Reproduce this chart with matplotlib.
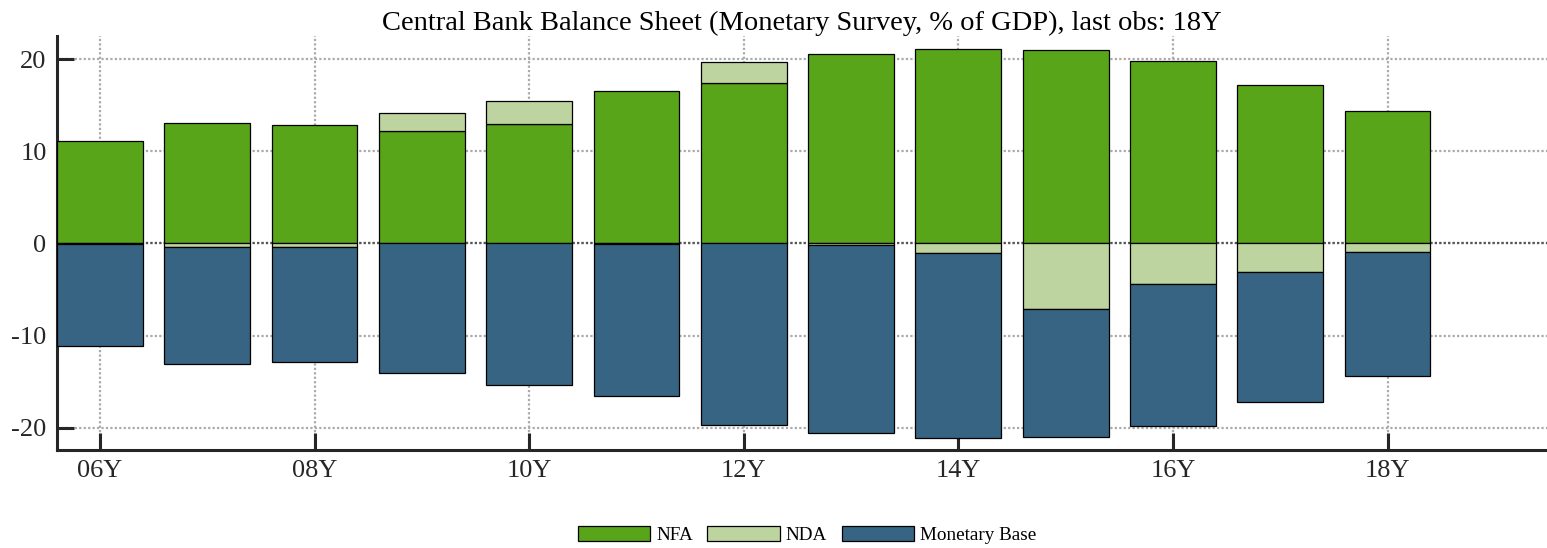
import numpy as np
import matplotlib.pyplot as plt

plt.rcParams['font.family'] = ['Liberation Serif', 'DejaVu Serif']
plt.rcParams['axes.unicode_minus'] = False

# yearly observations, % of GDP
years = ['06Y', '07Y', '08Y', '09Y', '10Y', '11Y', '12Y', '13Y', '14Y', '15Y', '16Y', '17Y', '18Y']
nfa = [11.1, 13.1, 12.9, 12.2, 12.95, 16.55, 17.4, 20.6, 21.05, 20.95, 19.75, 17.15, 14.35]
nda = [-0.05, -0.38, -0.4, 1.9, 2.45, -0.05, 2.3, -0.2, -1.0, -7.1, -4.4, -3.1, -0.95]
mbase = [11.05, 12.72, 12.5, 14.1, 15.4, 16.45, 19.7, 20.4, 20.05, 13.85, 15.35, 14.05, 13.4]

c_nfa = '#59a51a'
c_nda = '#bed4a0'
c_mb = '#366482'
ink = '#262626'

x = np.arange(len(years))
nfa = np.array(nfa)
nda = np.array(nda)
mbase = np.array(mbase)

fig = plt.figure(figsize=(15.47, 5.48), dpi=100)
ax = fig.add_axes([57 / 1547, 1 - 450 / 548, 1 - 57 / 1547, 414 / 548])

w = 0.8
ekw = dict(edgecolor='black', linewidth=0.9, zorder=3)
ax.bar(x, nfa, w, color=c_nfa, label='NFA', **ekw)
# positive NDA sits on top of NFA, negative NDA hangs below zero
nda_bottom = np.where(nda > 0, nfa, 0)
ax.bar(x, nda, w, bottom=nda_bottom, color=c_nda, label='NDA', **ekw)
ax.bar(x, -mbase, w, bottom=np.minimum(nda, 0), color=c_mb, label='Monetary Base', **ekw)

ax.set_xlim(-0.4, 13.486)
ax.set_ylim(-22.4, 22.5)
ax.set_xticks(x[::2])
ax.set_xticklabels(years[::2])
ax.set_yticks([-20, -10, 0, 10, 20])

ax.set_axisbelow(True)
ax.grid(True, color='#aaaaaa', linestyle=(0, (1, 1)), linewidth=1.6)
ax.axhline(0, color='#555555', linestyle=(0, (1, 1)), linewidth=1.6, zorder=1)

for s in ['top', 'right']:
    ax.spines[s].set_visible(False)
for s in ['left', 'bottom']:
    ax.spines[s].set_linewidth(2.2)
    ax.spines[s].set_color(ink)

ax.tick_params(direction='in', length=12, width=2.2, color=ink, labelcolor=ink,
               labelsize=19, pad=7.5)

ax.set_title('Central Bank Balance Sheet (Monetary Survey, % of GDP), last obs: 18Y',
             fontsize=20.5, pad=4)

fig.legend(loc='center', bbox_to_anchor=(807 / 1547, 0.024), ncol=3, frameon=False,
           fontsize=13.8, handlelength=3.8, handleheight=0.85, handletextpad=0.3,
           columnspacing=0.75)

fig.savefig('out.png', dpi=100)
